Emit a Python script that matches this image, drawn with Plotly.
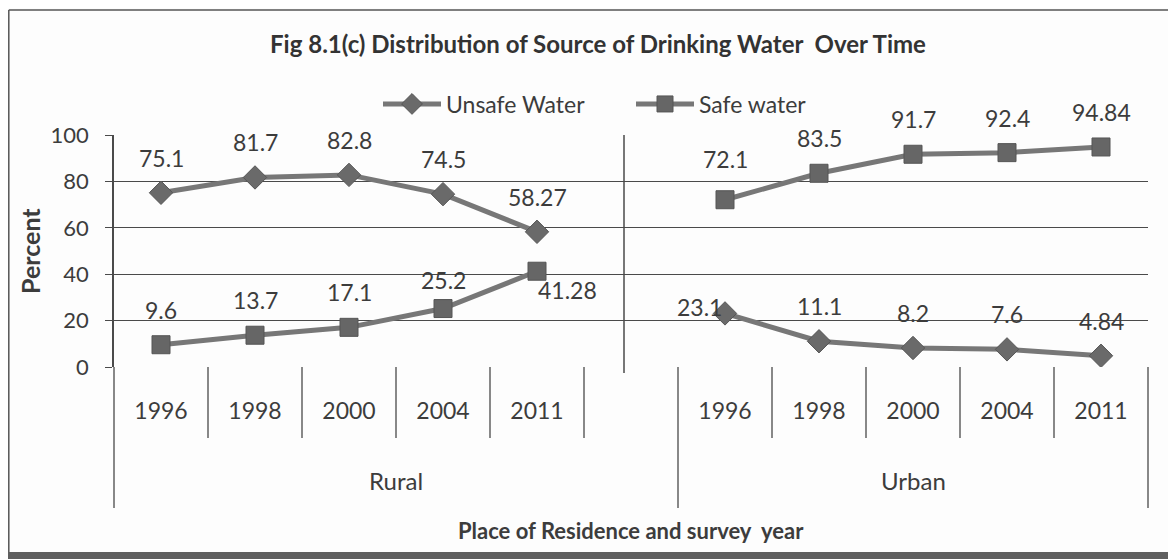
import plotly.graph_objects as go

# ---------------- data ----------------
groups = ["Rural", "Urban"]
years = ["1996", "1998", "2000", "2004", "2011"]
unsafe_rural = [75.1, 81.7, 82.8, 74.5, 58.27]
unsafe_urban = [23.1, 11.1, 8.2, 7.6, 4.84]
safe_rural = [9.6, 13.7, 17.1, 25.2, 41.28]
safe_urban = [72.1, 83.5, 91.7, 92.4, 94.84]
y_ticks = [0, 20, 40, 60, 80, 100]
title_text = "Fig 8.1(c) Distribution of Source of Drinking Water  Over Time"
x_title = "Place of Residence and survey  year"
y_title = "Percent"

# ---------------- layout geometry (screen px of the reference) ----------------
OFF = 8                      # page body margin of the html page
SW, SH = 1176, 559           # screen size
W, H = SW - OFF, SH - OFF    # figure size
PL, PR, PT, PB = 114, 1148, 135, 367   # plot area in screen px
L, R, T, B = PL - OFF, SW - PR, PT - OFF, SH - PB
PW, PH = PR - PL, PB - PT
FONT = "Lato, 'Open Sans', sans-serif"
TXT = "#3c3c3c"
LINE = "#4a4a4a"


def px_x(px):
    return (px - PL) / PW


def px_y(py):
    return (PB - py) / PH


# category slots: Rural group has its 5 years plus one blank slot, Urban 5 years
rural_slots = list(range(len(years)))
urban_slots = [len(years) + 1 + i for i in range(len(years))]
n_slots = len(years) * 2 + 1
blank_slot = len(years)

x_all = rural_slots + [blank_slot] + urban_slots
unsafe_all = unsafe_rural + [None] + unsafe_urban
safe_all = safe_rural + [None] + safe_urban

fig = go.Figure()
fig.add_trace(go.Scatter(
    x=x_all, y=unsafe_all, mode="lines+markers", name="Unsafe Water",
    line=dict(color="#777777", width=5),
    marker=dict(symbol="diamond", size=18, color="#6a6a6a",
                line=dict(color="#555555", width=1)),
    connectgaps=False,
))
fig.add_trace(go.Scatter(
    x=x_all, y=safe_all, mode="lines+markers", name="Safe water",
    line=dict(color="#777777", width=5),
    marker=dict(symbol="square", size=18, color="#666666",
                line=dict(color="#555555", width=1)),
    connectgaps=False,
))

# data labels
default_shift = (0, 35)
label_shift = {
    ("safe", 4): (30, -19),      # 41.28
    ("unsafe", 6): (-26, 6),     # urban 23.1
    ("safe", 3): (0, 29),        # 25.2
    ("safe", 6): (0, 41),        # urban 72.1
}
annotations = []
for key, vals in (("unsafe", unsafe_all), ("safe", safe_all)):
    for xv, yv in zip(x_all, vals):
        if yv is None:
            continue
        dx, dy = label_shift.get((key, xv), default_shift)
        annotations.append(dict(
            x=xv, y=yv, xref="x", yref="y", text=f"{yv:g}", showarrow=False,
            xanchor="center", yanchor="middle",
            xshift=dx, yshift=dy, font=dict(family=FONT, size=23, color=TXT),
        ))

# group labels
group_slots = [rural_slots + [blank_slot], urban_slots]
for g, slots in zip(groups, group_slots):
    lo, hi = min(slots) - 0.5, max(slots) + 0.5
    annotations.append(dict(
        x=((lo + hi) / 2 + 0.5) / n_slots, y=px_y(480), xref="paper", yref="paper",
        xanchor="center", yanchor="middle",
        text=g, showarrow=False, font=dict(family=FONT, size=24, color=TXT),
    ))

# axis titles
annotations.append(dict(
    x=0.5, y=px_y(530), xref="paper", yref="paper", text=f"<b>{x_title}</b>",
    xanchor="center", yanchor="middle",
    showarrow=False, font=dict(family=FONT, size=22, color=TXT),
))
annotations.append(dict(
    x=px_x(30), y=0.5, xref="paper", yref="paper", text=f"<b>{y_title}</b>",
    xanchor="center", yanchor="middle",
    textangle=-90, showarrow=False, font=dict(family=FONT, size=25, color=TXT),
))

# separators below the axis
shapes = []
group_edges = {-0.5, blank_slot + 0.5, n_slots - 0.5}
for k in range(n_slots + 1):
    b = k - 0.5
    xp = (b + 0.5) / n_slots
    y1 = px_y(508) if b in group_edges else px_y(438)
    shapes.append(dict(type="line", xref="paper", yref="paper", x0=xp, x1=xp,
                       y0=0, y1=y1, line=dict(color=LINE, width=1.3)))
# mid vertical divider in the plot area
shapes.append(dict(type="line", xref="paper", yref="paper", x0=px_x(624), x1=px_x(624),
                   y0=px_y(373), y1=1, line=dict(color=LINE, width=1.5)))
# outer frame of the scanned chart
shapes.append(dict(type="line", xref="paper", yref="paper", x0=px_x(OFF + 0.8), x1=px_x(SW),
                   y0=px_y(10), y1=px_y(10), line=dict(color="#555555", width=1.5)))
shapes.append(dict(type="line", xref="paper", yref="paper", x0=px_x(OFF + 0.8), x1=px_x(OFF + 0.8),
                   y0=px_y(10), y1=px_y(553), line=dict(color="#555555", width=1.5)))
shapes.append(dict(type="rect", xref="paper", yref="paper", x0=px_x(OFF), x1=px_x(SW),
                   y0=px_y(552), y1=px_y(SH), line=dict(width=0), fillcolor="#5f5f5f"))

fig.update_layout(
    width=W, height=H,
    margin=dict(l=L, r=R, t=T, b=B),
    paper_bgcolor="#fdfdfd", plot_bgcolor="#fdfdfd",
    font=dict(family=FONT, color=TXT),
    title=dict(text=f"<b>{title_text}</b>", x=(598 - OFF) / W, xanchor="center",
               y=1 - (45 - OFF) / H, yanchor="middle",
               font=dict(family=FONT, size=24, color="#333333")),
    showlegend=True,
    legend=dict(orientation="h", x=px_x(378), xanchor="left", y=px_y(104), yanchor="middle",
                font=dict(family=FONT, size=23, color=TXT), bgcolor="rgba(0,0,0,0)",
                itemwidth=58, entrywidth=180),
    xaxis=dict(range=[-0.5, n_slots - 0.5], tickvals=rural_slots + urban_slots,
               ticktext=years + years, showgrid=False, zeroline=False, showline=False,
               ticks="", ticklabelstandoff=28, tickfont=dict(family=FONT, size=23, color=TXT),
               fixedrange=True),
    yaxis=dict(range=[0, 100], tickvals=y_ticks, showgrid=True, gridcolor=LINE, gridwidth=1.3,
               zeroline=False, showline=True, linecolor=LINE, linewidth=1.5,
               ticks="outside", ticklen=7, tickcolor=LINE, ticklabelstandoff=12,
               tickfont=dict(family=FONT, size=22, color=TXT)),
    annotations=annotations,
    shapes=shapes,
)

fig.write_html("out.html")
